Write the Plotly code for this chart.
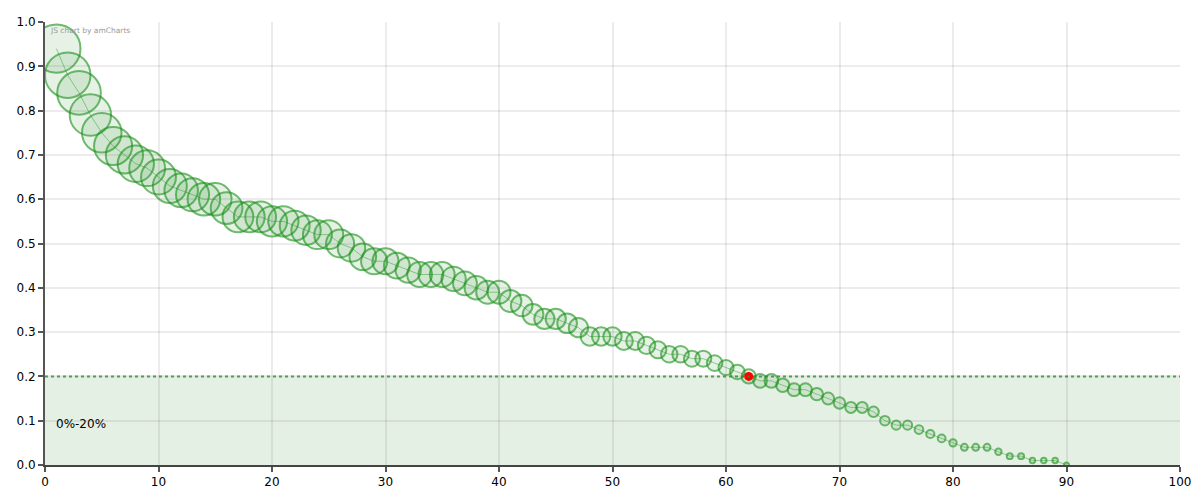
import plotly.graph_objects as go

x_values = list(range(1, 91))
y_values = [0.94, 0.88, 0.84, 0.79, 0.75, 0.72, 0.70, 0.68, 0.67, 0.65,
            0.63, 0.62, 0.61, 0.60, 0.60, 0.58, 0.56, 0.56, 0.56, 0.55,
            0.55, 0.54, 0.53, 0.52, 0.52, 0.50, 0.49, 0.47, 0.46, 0.46,
            0.45, 0.44, 0.43, 0.43, 0.43, 0.42, 0.41, 0.40, 0.39, 0.39,
            0.37, 0.36, 0.34, 0.33, 0.33, 0.32, 0.31, 0.29, 0.29, 0.29,
            0.28, 0.28, 0.27, 0.26, 0.25, 0.25, 0.24, 0.24, 0.23, 0.22,
            0.21, 0.20, 0.19, 0.19, 0.18, 0.17, 0.17, 0.16, 0.15, 0.14,
            0.13, 0.13, 0.12, 0.10, 0.09, 0.09, 0.08, 0.07, 0.06, 0.05,
            0.04, 0.04, 0.04, 0.03, 0.02, 0.02, 0.01, 0.01, 0.01, 0.00]
highlight_x = 62
band_low, band_high = 0.0, 0.2
band_label = "0%-20%"
x_ticks = list(range(0, 101, 10))
y_ticks = [round(i * 0.1, 1) for i in range(11)]

sizes = [5 + 46 * v for v in y_values]
hi_y = y_values[x_values.index(highlight_x)]

FONT = "Verdana, DejaVu Sans, sans-serif"

fig = go.Figure()
fig.add_trace(go.Scatter(
    x=x_values, y=y_values, mode="lines+markers",
    line=dict(color="rgba(40,150,40,0.45)", width=1),
    marker=dict(size=sizes, sizemode="diameter",
                color="rgba(50,150,50,0.17)",
                line=dict(color="rgba(25,145,25,0.88)", width=2)),
    showlegend=False, cliponaxis=True,
))
fig.add_trace(go.Scatter(
    x=[highlight_x], y=[hi_y], mode="markers",
    marker=dict(size=9, color="#ff0000", line=dict(width=0)),
    showlegend=False,
))

fig.add_shape(type="rect", xref="paper", yref="y", x0=0, x1=1, y0=band_low, y1=band_high,
              fillcolor="rgba(40,130,40,0.12)", line=dict(width=0), layer="below")
fig.add_shape(type="line", xref="paper", yref="y", x0=0, x1=1, y0=band_high, y1=band_high,
              line=dict(color="rgba(40,140,40,0.8)", width=2, dash="dot"))
fig.add_annotation(xref="paper", yref="y", x=0.008, y=0.093, text=band_label,
                   showarrow=False, xanchor="left", yanchor="middle",
                   font=dict(family=FONT, size=12, color="#000"))
fig.add_annotation(xref="paper", yref="paper", x=0.003, y=0.995, text="JS chart by amCharts",
                   showarrow=False, xanchor="left", yanchor="top",
                   font=dict(family=FONT, size=7.5, color="#999"))

fig.update_layout(
    width=1192, height=492,
    margin=dict(l=37, r=20, t=14, b=35),
    plot_bgcolor="white", paper_bgcolor="white",
    font=dict(family=FONT, size=12, color="#000"),
    xaxis=dict(range=[0, 100], tickvals=x_ticks, showgrid=True, automargin=False,
               gridcolor="rgba(0,0,0,0.075)", gridwidth=2, zeroline=False,
               showline=True, linecolor="#444", linewidth=2,
               ticks="outside", ticklen=5, tickcolor="#555", tickwidth=1.5),
    yaxis=dict(range=[0, 1.0], tickvals=y_ticks, tickformat=".1f", showgrid=True, automargin=False,
               gridcolor="rgba(0,0,0,0.075)", gridwidth=2, zeroline=False,
               showline=True, linecolor="#555", linewidth=2,
               ticks="outside", ticklen=5, tickcolor="#555", tickwidth=1.5),
)

fig.write_html("out.html")
